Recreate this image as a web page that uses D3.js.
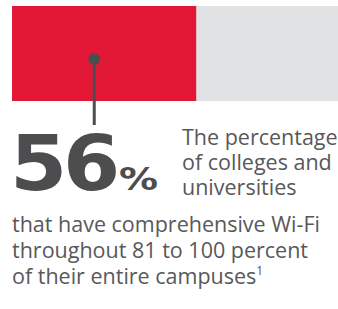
<!DOCTYPE html>
<html>
<head>
<meta charset="utf-8">
<script src="https://cdn.jsdelivr.net/npm/d3@7"></script>
<style>
  body { margin: 0; background: #fff; }
  svg { display: block; }
</style>
</head>
<body>
<script>
var w = 338;
var h = 309;

// the one figure this card shows
var value = 56;
var total = 100;
var markerAt = 25;
var bigLabel = "56";
var sideLines = ["The percentage", "of colleges and", "universities"];
var bodyLines = ["that have comprehensive Wi-Fi", "throughout 81 to 100 percent", "of their entire campuses"];

var red = "#e31837";
var grey = "#e1e2e4";
var ink = "#4d4d4f";
var textInk = "#58585a";

var svg = d3.select("body").append("svg").attr("width", w).attr("height", h);

var x = d3.scaleLinear().domain([0, total]).range([12, 341]);

// bar: background then value
svg.append("rect")
  .attr("x", x(value)).attr("y", 6)
  .attr("width", x(total) - x(value)).attr("height", 95)
  .attr("fill", grey);
svg.append("rect")
  .attr("x", x(0)).attr("y", 6)
  .attr("width", x(value) - x(0)).attr("height", 95)
  .attr("fill", red);

// pin from the bar down to the number
svg.append("line")
  .attr("x1", x(markerAt)).attr("x2", x(markerAt))
  .attr("y1", 59).attr("y2", 125)
  .attr("stroke", ink).attr("stroke-width", 3);
svg.append("circle")
  .attr("cx", x(markerAt)).attr("cy", 59).attr("r", 6)
  .attr("fill", ink);

// big number in a wide heavy face, fitted to the width it has in the original
function wideText(str, x0, y0, size, width, ls) {
  var t = svg.append("text")
    .attr("font-family", "'DejaVu Sans', sans-serif")
    .attr("font-weight", "bold")
    .attr("font-size", size)
    .attr("letter-spacing", ls)
    .attr("fill", ink)
    .text(str);
  var len = t.node().getBBox().width;
  t.attr("transform", "translate(" + x0 + "," + y0 + ") scale(" + (width / len) + ",1)");
  return t;
}
wideText(bigLabel, 10, 190, 76, 106, -4);
wideText("%", 119, 190, 32, 39, 0);

svg.append("g").selectAll("text")
  .data(sideLines)
  .enter().append("text")
  .attr("x", 182)
  .attr("y", function(d, i) { return 145 + i * 25; })
  .attr("font-family", "'Open Sans', sans-serif")
  .attr("font-size", 21.5)
  .attr("fill", textInk)
  .text(function(d) { return d; });

var body = svg.append("g").selectAll("text")
  .data(bodyLines)
  .enter().append("text")
  .attr("x", 12)
  .attr("y", function(d, i) { return 232 + i * 26; })
  .attr("font-family", "'Open Sans', sans-serif")
  .attr("font-size", 21.5)
  .attr("fill", textInk)
  .text(function(d) { return d; });

// footnote mark on the last line
body.filter(function(d, i) { return i === bodyLines.length - 1; })
  .append("tspan").attr("font-size", 12).attr("dy", -9).text("1");
</script>
</body>
</html>
